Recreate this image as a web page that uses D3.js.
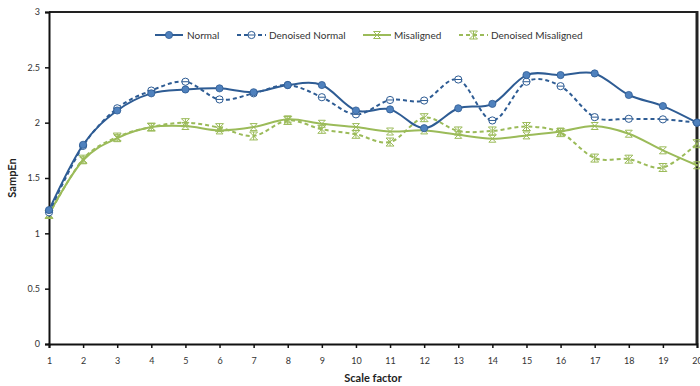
<!DOCTYPE html>
<html><head><meta charset="utf-8">
<script src="https://cdn.jsdelivr.net/npm/d3@7"></script>
<style>body{margin:0;background:#fff}svg{display:block}</style>
</head><body>
<svg id="c" width="700" height="386"></svg>
<script>
const scales = [1,2,3,4,5,6,7,8,9,10,11,12,13,14,15,16,17,18,19,20];
const normal = [1.21,1.80,2.11,2.265,2.30,2.31,2.275,2.34,2.34,2.11,2.12,1.95,2.13,2.17,2.43,2.43,2.445,2.25,2.15,2.0];
const denoisedNormal = [1.19,1.79,2.13,2.29,2.37,2.21,2.265,2.34,2.23,2.075,2.205,2.20,2.39,2.02,2.37,2.33,2.05,2.035,2.03,2.0];
const misaligned = [1.175,1.66,1.86,1.96,1.97,1.93,1.96,2.03,1.99,1.96,1.92,1.93,1.89,1.855,1.885,1.92,1.97,1.90,1.75,1.615];
const denoisedMisaligned = [1.17,1.67,1.87,1.96,2.0,1.955,1.88,2.02,1.94,1.895,1.825,2.045,1.925,1.925,1.965,1.91,1.68,1.67,1.595,1.81];
const yTicks = [0,0.5,1,1.5,2,2.5,3];
const seriesNames = ["Normal","Denoised Normal","Misaligned","Denoised Misaligned"];

const series = [
  {name: seriesNames[0], values: normal, color:"#2E5C94", fill:"#4F81BD", dash:null, marker:"dot"},
  {name: seriesNames[1], values: denoisedNormal, color:"#2E5C94", fill:"#fff", dash:"4,3", marker:"ocircle"},
  {name: seriesNames[2], values: misaligned, color:"#9BBB59", fill:"#9BBB59", dash:null, marker:"x"},
  {name: seriesNames[3], values: denoisedMisaligned, color:"#9BBB59", fill:"#9BBB59", dash:"4,3", marker:"star"}
];

const svg = d3.select("#c");
const L=49, R=697, T=12, B=344;
const x = d3.scaleLinear().domain([1,20]).range([L,R]);
const y = d3.scaleLinear().domain([0,3]).range([B,T]);
const font = "Lato, 'Open Sans', sans-serif";

// box
svg.append("line").attr("x1",L).attr("x2",R).attr("y1",T).attr("y2",T).attr("stroke","#222").attr("stroke-width",2);
svg.append("line").attr("x1",R).attr("x2",R).attr("y1",T-1).attr("y2",B).attr("stroke","#222").attr("stroke-width",3);

const yAxis = svg.append("g").attr("transform",`translate(${L},0)`)
  .call(d3.axisLeft(y).tickValues(yTicks).tickSize(4).tickPadding(5).tickFormat(d3.format("")));
const xAxis = svg.append("g").attr("transform",`translate(0,${B})`)
  .call(d3.axisBottom(x).tickValues(scales).tickSize(4).tickPadding(10).tickFormat(d3.format("d")));
[yAxis,xAxis].forEach(g=>{
  g.select(".domain").attr("stroke","#111").attr("stroke-width",2);
  g.selectAll(".tick line").attr("stroke","#111").attr("stroke-width",1.5);
  g.selectAll("text").attr("fill","#333").style("font-family",font).style("font-size","9px");
});

svg.append("text").attr("x",373).attr("y",382).attr("text-anchor","middle")
  .style("font-family",font).style("font-size","11px").style("font-weight","bold").attr("fill","#222").text("Scale factor");
svg.append("text").attr("transform","translate(16,178) rotate(-90)").attr("text-anchor","middle")
  .style("font-family",font).style("font-size","11px").style("font-weight","bold").attr("fill","#222").text("SampEn");

const line = d3.line().x((d,i)=>x(scales[i])).y(d=>y(d)).curve(d3.curveCatmullRom.alpha(0));

function drawMarker(g, s, cx, cy){
  if(s.marker==="dot"){
    g.append("circle").attr("cx",cx).attr("cy",cy).attr("r",3.6).attr("fill",s.fill).attr("stroke",s.color).attr("stroke-width",0.8);
  } else if(s.marker==="ocircle"){
    g.append("circle").attr("cx",cx).attr("cy",cy).attr("r",3.6).attr("fill","#fff").attr("stroke",s.color).attr("stroke-width",1);
    g.append("line").attr("x1",cx-3.6).attr("x2",cx+3.6).attr("y1",cy).attr("y2",cy).attr("stroke",s.color).attr("stroke-width",1);
  } else if(s.marker==="x"){
    const r=3.5;
    g.append("path").attr("d",`M${cx-r},${cy-r}L${cx+r},${cy+r}M${cx-r},${cy+r}L${cx+r},${cy-r}M${cx-r},${cy-r}H${cx+r}M${cx-r},${cy+r}H${cx+r}`)
      .attr("stroke",s.color).attr("stroke-width",1).attr("fill","none");
  } else {
    const r=4;
    g.append("path").attr("d",`M${cx-r},${cy-r}L${cx+r},${cy+r}M${cx-r},${cy+r}L${cx+r},${cy-r}M${cx},${cy-r}V${cy+r}M${cx-r},${cy-r}H${cx+r}M${cx-r},${cy+r}H${cx+r}`)
      .attr("stroke",s.color).attr("stroke-width",1).attr("fill","none");
  }
}

// draw green first, then blue
[series[3],series[2],series[1],series[0]].forEach(s=>{
  const g = svg.append("g");
  g.append("path").datum(s.values).attr("d",line).attr("fill","none")
    .attr("stroke",s.color).attr("stroke-width",2).attr("stroke-dasharray",s.dash);
  s.values.forEach((v,i)=>drawMarker(g,s,x(scales[i]),y(v)));
});

// legend
const legendPos = [[155,183,187],[237,266,269],[363,391,394],[459,488,491]];
series.forEach((s,i)=>{
  const [a,b,tx]=legendPos[i];
  const ly=35;
  const g=svg.append("g");
  g.append("line").attr("x1",a).attr("x2",b).attr("y1",ly).attr("y2",ly).attr("stroke",s.color).attr("stroke-width",2).attr("stroke-dasharray",s.dash);
  drawMarker(g,s,(a+b)/2,ly);
  g.append("text").attr("x",tx).attr("y",ly+3.5).style("font-family",font).style("font-size","10px").attr("fill","#333").text(s.name);
});
</script>
</body></html>
